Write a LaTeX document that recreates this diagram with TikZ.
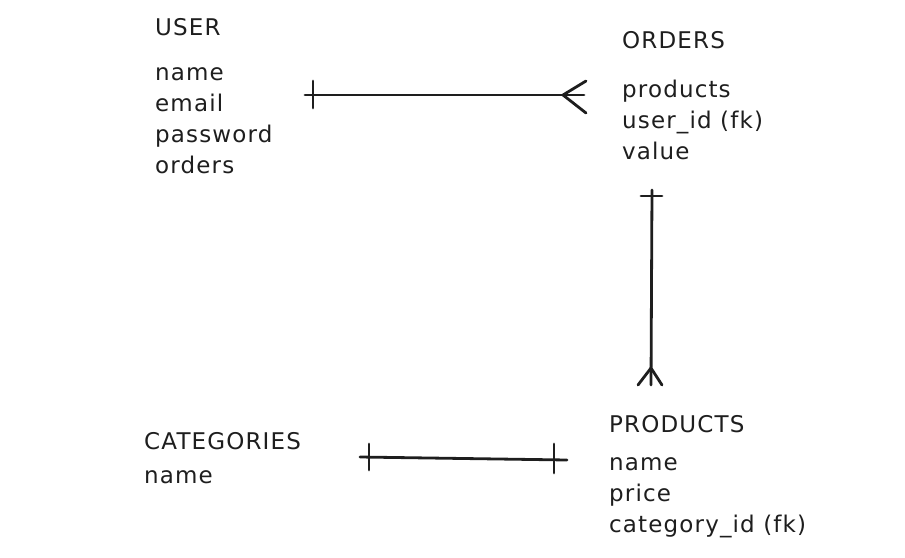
\documentclass[tikz,border=0pt]{standalone}
\usepackage{fontspec}
\setmainfont[LetterSpace=5]{DejaVu Sans}
\usetikzlibrary{calc}
\definecolor{ink}{HTML}{1E1E1E}
\tikzset{
  title/.style={anchor=base west, inner sep=0pt, text=ink, font=\fontsize{23}{31}\selectfont},
  attrs/.style={title, align=left},
  rel/.style={draw=ink, line width=2.8pt, line cap=round, line join=round},
}
\begin{document}
\begin{tikzpicture}[x=1pt,y=-1pt]
  \useasboundingbox (0,0) rectangle (905,557);
  % entities (attrs are placed by the baseline of their last line)
  \node [title] (user) at (155,35) {USER};
  \node [attrs] (userattr) at (155,173) {name\\email\\password\\orders};
  \node [title] (orders) at (622,48) {ORDERS};
  \node [attrs] (ordersattr) at (622,159) {products\\user\_id (fk)\\value};
  \node [title] (products) at (609,432) {PRODUCTS};
  \node [attrs] (productsattr) at (609,532) {name\\price\\category\_id (fk)};
  \node [title] (categories) at (144,449) {CATEGORIES};
  \node [attrs] (categoriesattr) at (144,483) {name};
  % user -- orders : one to many
  \coordinate (uo-a) at (305,95);
  \coordinate (uo-b) at (584,95);
  \draw [rel] (uo-a) -- (uo-b);
  \draw [rel] ($(uo-a)+(8,-14)$) -- ($(uo-a)+(8,13)$);
  \draw [rel] ($(uo-b)+(2,-14)$) -- ($(uo-b)+(-21,0)$) -- ($(uo-b)+(2,18)$);
  % orders -- products : one to many
  \coordinate (op-a) at (652,190);
  \coordinate (op-b) at (651,385);
  \draw [rel] (op-a) -- (op-b);
  \draw [rel] ($(op-a)+(-11,6)$) -- ($(op-a)+(10,6)$);
  \draw [rel] ($(op-b)+(-13,0)$) -- ($(op-b)+(0,-17)$) -- ($(op-b)+(11,0)$);
  % categories -- products : one to one
  \coordinate (cp-a) at (360,457);
  \coordinate (cp-b) at (567,460);
  \draw [rel] (cp-a) -- (cp-b);
  \draw [rel] ($(cp-a)+(9,-13)$) -- ($(cp-a)+(9,13)$);
  \draw [rel] ($(cp-b)+(-13,-16)$) -- ($(cp-b)+(-13,13)$);
\end{tikzpicture}
\end{document}
